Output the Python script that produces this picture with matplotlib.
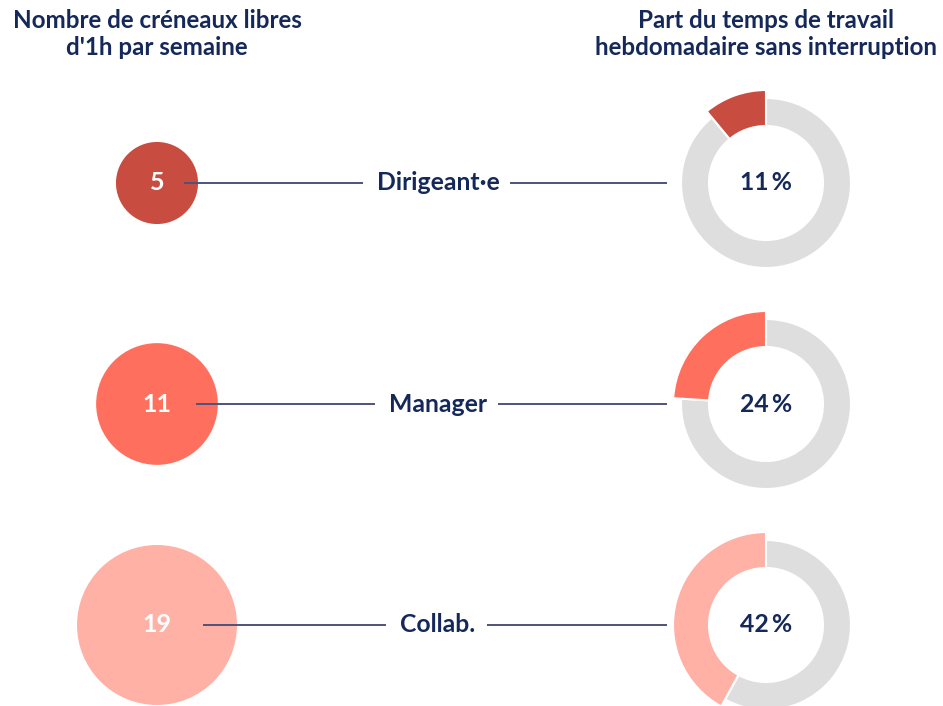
import matplotlib
matplotlib.use("Agg")
import matplotlib.pyplot as plt
from matplotlib.patches import Circle, Wedge
import numpy as np

plt.rcParams['font.family'] = ['Lato', 'DejaVu Sans']

# Data
categories = ["Dirigeant·e", "Manager", "Collab."]
free_slots = [5, 11, 19]
uninterrupted_pct = [11, 24, 42]
colors = ["#c94c40", "#ff6f5e", "#ffb1a6"]
title_left = "Nombre de créneaux libres\nd'1h par semaine"
title_right = "Part du temps de travail\nhebdomadaire sans interruption"

NAVY = "#14285a"
LINE = "#4d5478"
GREY = "#dedede"
WEIGHT = 'bold'

W, H = 943, 706
fig = plt.figure(figsize=(W / 100, H / 100), dpi=100)
ax = fig.add_axes([0, 0, 1, 1])
ax.set_xlim(0, W)
ax.set_ylim(0, H)
ax.set_aspect('equal')
ax.axis('off')

row_y = [H - 183, H - 404, H - 625]
cx_left = 157
cx_donut = 766
k = 18.35  # radius per sqrt(value)
r_out, r_in, r_hi = 85, 57, 93
label_x = [438, 438, 438]
label_half = [60, 48, 37]
line_start_off = [27, 39, 46]

for i, cat in enumerate(categories):
    y = row_y[i]
    r = k * np.sqrt(free_slots[i])
    ax.add_patch(Circle((cx_left, y), r, color=colors[i], lw=0, zorder=1))
    ax.text(cx_left, y, str(free_slots[i]), color="white", fontsize=18,
            fontweight=WEIGHT, ha='center', va='center', zorder=3)
    # connecting lines
    lx = label_x[i]
    ax.plot([cx_left + line_start_off[i], lx - label_half[i] - 15], [y, y],
            color=LINE, lw=1.4, zorder=2, solid_capstyle='butt')
    ax.plot([lx + label_half[i] + 12, cx_donut - 99], [y, y],
            color=LINE, lw=1.4, zorder=2, solid_capstyle='butt')
    ax.text(lx, y, cat, color=NAVY, fontsize=17.8, fontweight=WEIGHT,
            ha='center', va='center')
    # donut
    p = uninterrupted_pct[i] / 100.0
    t_end = 90 + p * 360
    ax.add_patch(Wedge((cx_donut, y), r_out, t_end, 450, width=r_out - r_in,
                       facecolor=GREY, edgecolor='white', lw=1.5))
    ax.add_patch(Wedge((cx_donut, y), r_hi, 90, t_end, width=r_hi - r_in,
                       facecolor=colors[i], edgecolor='white', lw=1.5))
    ax.text(cx_donut, y, f"{uninterrupted_pct[i]}\u2009%", color=NAVY, fontsize=17.8,
            fontweight=WEIGHT, ha='center', va='center')

ax.text(157, H - 34, title_left, color=NAVY, fontsize=17.4, fontweight=WEIGHT,
        ha='center', va='center', linespacing=1.22)
ax.text(766, H - 34, title_right, color=NAVY, fontsize=17.4, fontweight=WEIGHT,
        ha='center', va='center', linespacing=1.22)

fig.savefig("out.png", dpi=100, facecolor='white')
